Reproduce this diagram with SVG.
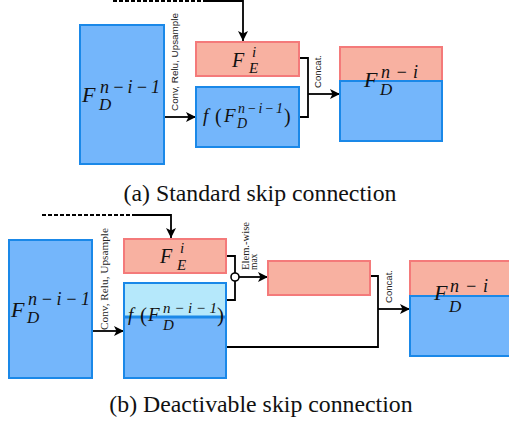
<svg xmlns="http://www.w3.org/2000/svg" width="509" height="425" viewBox="0 0 509 425">
<defs>
<marker id="ah" viewBox="0 0 10 10" refX="10" refY="5" markerWidth="10" markerHeight="10" markerUnits="userSpaceOnUse" orient="auto"><path d="M0,0 L10,5 L0,10 L2.5,5 z" fill="#000"/></marker>
<style>
.blue{fill:#74b6fb;stroke:#1a88e8;stroke-width:2}
.pink{fill:#f8b1a1;stroke:#f47a7a;stroke-width:2}
.lblue{fill:#b5e8fb;stroke:#1a88e8;stroke-width:2}
.ln{fill:none;stroke:#000;stroke-width:1.8}
.dash{fill:none;stroke:#000;stroke-width:1.8;stroke-dasharray:4,2}
.m{font-family:'Liberation Serif',serif;font-style:italic;fill:#111}
.up{font-style:normal}
.rs{font-family:'Liberation Sans',sans-serif;font-size:9.5px;fill:#222}
.rt{font-family:'Liberation Serif',serif;font-size:9.5px;fill:#222}
.cap{font-family:'Liberation Serif',serif;font-size:23.8px;fill:#111}
</style>
</defs>
<rect width="509" height="425" fill="#fff"/>
<g id="connectors">
<path class="dash" d="M113,1 H205"/>
<path class="ln" d="M205,1 H243 V41" marker-end="url(#ah)"/>
<path class="ln" d="M165,117 H196" marker-end="url(#ah)"/>
<path class="ln" d="M299,58 H308 V117 H299"/>
<path class="ln" d="M308,94 H340" marker-end="url(#ah)"/>
<path class="dash" d="M42,215 H135"/>
<path class="ln" d="M135,215 H171 V238" marker-end="url(#ah)"/>
<path class="ln" d="M93,331 H124" marker-end="url(#ah)"/>
<path class="ln" d="M226,256 H235 V273 M235,281 V300 H226"/>
<path class="ln" d="M239,277 H268" marker-end="url(#ah)"/>
<circle cx="235" cy="277" r="4" fill="#fff" stroke="#000" stroke-width="1.6"/>
<path class="ln" d="M370,276 H378 V347 H226"/>
<path class="ln" d="M378,309 H410" marker-end="url(#ah)"/>
</g>
<g id="labels">
<text class="rs" transform="translate(178,111) rotate(-90)" textLength="98" lengthAdjust="spacingAndGlyphs">Conv, Relu, Upsample</text>
<text class="rs" transform="translate(321,88) rotate(-90)" textLength="33" lengthAdjust="spacingAndGlyphs">Concat.</text>
<text class="rt" transform="translate(108,330) rotate(-90)" textLength="102" lengthAdjust="spacingAndGlyphs">Conv, Relu, Upsample</text>
<text class="rt" transform="translate(249,270) rotate(-90)" textLength="48" lengthAdjust="spacingAndGlyphs">Elem.-wise</text>
<text class="rt" transform="translate(257,270) rotate(-90)">max</text>
<text class="rs" transform="translate(392,303) rotate(-90)" textLength="33" lengthAdjust="spacingAndGlyphs">Concat.</text>
</g>
<g id="top-fd-prev">
<rect class="blue" x="80" y="25" width="84" height="139"/>
<text class="m" font-size="22" x="82" y="102">F</text>
<text class="m" font-size="18" x="100" y="93" textLength="60" lengthAdjust="spacing">n−i−1</text>
<text class="m" font-size="17" x="99" y="110">D</text>
</g>
<g id="top-fe">
<rect class="pink" x="196" y="42" width="103" height="34"/>
<text class="m" font-size="20" x="232" y="67">F</text>
<text class="m" font-size="15" x="252" y="57">i</text>
<text class="m" font-size="15" x="249" y="73">E</text>
</g>
<g id="top-f">
<rect class="blue" x="196" y="87" width="103" height="60"/>
<text class="m" font-size="19" x="203" y="122">f</text>
<text class="m up" font-size="20" x="215" y="123">(</text>
<text class="m" font-size="19" x="224" y="122">F</text>
<text class="m" font-size="14" x="238" y="113" textLength="45" lengthAdjust="spacing">n−i−1</text>
<text class="m" font-size="14" x="237" y="128">D</text>
<text class="m up" font-size="20" x="284" y="123">)</text>
</g>
<g id="top-fd">
<rect class="pink" x="340" y="47" width="102" height="34"/>
<rect class="blue" x="340" y="81" width="102" height="60"/>
<text class="m" font-size="22" x="364" y="87">F</text>
<text class="m" font-size="18" x="381" y="78" textLength="37" lengthAdjust="spacing">n−i</text>
<text class="m" font-size="17" x="380" y="95">D</text>
</g>
<text class="cap" x="260" y="201" text-anchor="middle">(a) Standard skip connection</text>
<g id="bot-fd-prev">
<rect class="blue" x="9" y="240" width="83" height="138"/>
<text class="m" font-size="22" x="11" y="317">F</text>
<text class="m" font-size="18" x="28" y="305" textLength="62" lengthAdjust="spacing">n−i−1</text>
<text class="m" font-size="17" x="27" y="323">D</text>
</g>
<g id="bot-fe">
<rect class="pink" x="124" y="239" width="102" height="34"/>
<text class="m" font-size="20" x="160" y="263">F</text>
<text class="m" font-size="15" x="180" y="253">i</text>
<text class="m" font-size="15" x="177" y="270">E</text>
</g>
<g id="bot-f">
<rect class="lblue" x="124" y="283" width="102" height="95"/>
<rect class="blue" x="124" y="317" width="102" height="61"/>
<line x1="124" y1="317" x2="226" y2="317" stroke="#1a88e8" stroke-width="3"/>
<text class="m" font-size="19" x="128" y="321">f</text>
<text class="m up" font-size="21" x="140" y="322">(</text>
<text class="m" font-size="19" x="148" y="321">F</text>
<text class="m" font-size="15" x="163" y="313" textLength="54" lengthAdjust="spacing">n−i−1</text>
<text class="m" font-size="15" x="163" y="330">D</text>
<text class="m up" font-size="21" x="217" y="322">)</text>
</g>
<g id="bot-max">
<rect class="pink" x="268" y="261" width="102" height="34"/>
</g>
<g id="bot-fd">
<rect class="pink" x="410" y="261" width="104" height="35"/>
<rect class="blue" x="410" y="296" width="104" height="60"/>
<text class="m" font-size="22" x="434" y="300">F</text>
<text class="m" font-size="18" x="450" y="292" textLength="38" lengthAdjust="spacing">n−i</text>
<text class="m" font-size="17" x="449" y="312">D</text>
</g>
<text class="cap" x="261" y="412" text-anchor="middle">(b) Deactivable skip connection</text>
</svg>
